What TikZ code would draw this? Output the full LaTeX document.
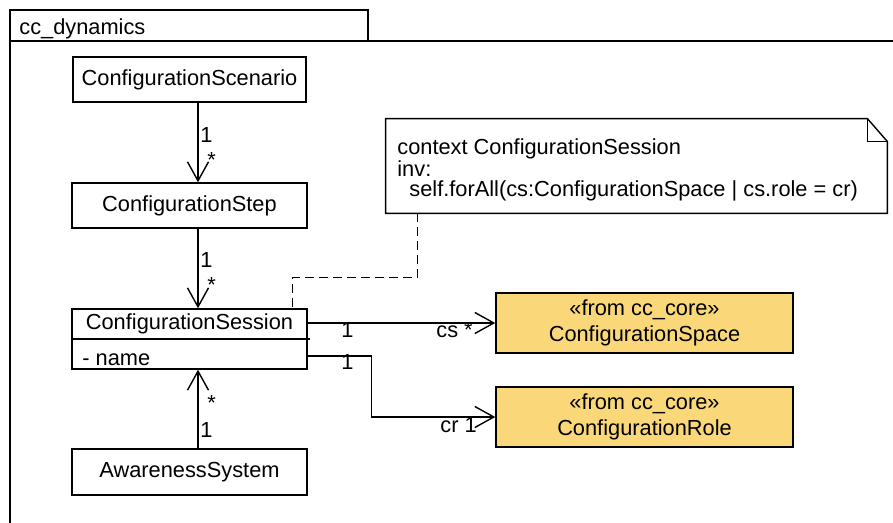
\documentclass[tikz,border=0pt]{standalone}
\usepackage{fontspec}
\setmainfont{Liberation Sans}
\usetikzlibrary{arrows.meta,calc}
\definecolor{corefill}{RGB}{250,216,122}
\begin{document}
\begin{tikzpicture}[x=0.5pt,y=-0.5pt,
  every node/.style={font=\fontsize{10.9}{13}\selectfont, inner sep=0pt},
  line/.style={line width=0.7pt},
  cls/.style={draw, line width=0.7pt, fill=white, minimum width=117.5pt, minimum height=22.5pt},
  corecls/.style={cls, fill=corefill, minimum width=148.5pt, minimum height=30pt, align=center},
  assoc/.style={line width=0.7pt, -{Straight Barb[length=9.5pt,width=10.5pt,line width=0.7pt]}},
  mult/.style={anchor=base west},
  notetxt/.style={anchor=base west}]
\useasboundingbox (0,0) rectangle (893,523);

% package frame with its name tab
\node[draw, line width=0.7pt, minimum width=179pt, minimum height=15.5pt] (tab) at (189,25.5) {};
\node[anchor=base west] (pkgname) at (19,35) {cc\_dynamics};
\coordinate (frameTR) at (893,41);
\coordinate (frameBL) at (10,523);
\draw[line] (frameBL) |- (frameTR);

% classes
\node[cls, minimum width=116.5pt] (scen) at (189.5,79.5) {ConfigurationScenario};
\node[cls] (step) at (189.5,205.5) {ConfigurationStep};
\node[cls, minimum height=30pt] (sess) at (189.5,339) {};
\node (sessname) at (189.5,324) {ConfigurationSession};
\draw[line] (sess.west) -- ([xshift=1pt]sess.east);
\node[anchor=base west] (sessattr) at (82,365) {- name};
\node[cls, minimum height=23pt] (aware) at (189.5,472) {AwarenessSystem};
\node[corecls] (space) at (644.5,323) {«from cc\_core»\\ConfigurationSpace};
\node[corecls] (role) at (644.5,417) {«from cc\_core»\\ConfigurationRole};

% OCL constraint note
\node[minimum width=250.5pt, minimum height=47pt] (note) at (636.5,166) {};
\draw[line, fill=white] (note.south west) -- (note.south east)
  -- ([yshift=-11.5pt]note.north east) -- ([xshift=-10pt]note.north east)
  -- (note.north west) -- cycle;
\draw[line] ([xshift=-10pt]note.north east) |- ([yshift=-11.5pt]note.north east);
\node[notetxt] (noteA) at (397,155) {context ConfigurationSession};
\node[notetxt] (noteB) at (397,177) {inv:};
\node[notetxt] (noteC) at (409,197) {self.forAll(cs:ConfigurationSpace | cs.role = cr)};

% associations
\draw[assoc] ([xshift=4.25pt]scen.south) -- ([xshift=4.25pt]step.north);
\draw[assoc] ([xshift=4.25pt]step.south) -- ([xshift=4.25pt]sess.north);
\draw[assoc] ([xshift=4.25pt]aware.north) -- ([xshift=4.25pt]sess.south);
\draw[assoc] (sess.east |- space.west) -- (space.west);
\draw[assoc] ([yshift=-8.5pt]sess.east) -- ++(32pt,0) |- (role.west);

% note attachment
\draw[line, dash pattern=on 4.5pt off 2.5pt] ([xshift=16pt]note.south west)
  -- ++(0,-32pt) -| ([xshift=-7.5pt]sess.north east);

% multiplicities and role names
\node[mult] (m1) at (200,143) {1};
\node[mult] (m2) at (207,168) {*};
\node[mult] (m3) at (200,268) {1};
\node[mult] (m4) at (207,293) {*};
\node[mult] (m5) at (207,410) {*};
\node[mult] (m6) at (200,437) {1};
\node[mult] (m7) at (341,337) {1};
\node[mult] (m8) at (436,337) {cs *};
\node[mult] (m9) at (341,369) {1};
\node[mult] (m10) at (440,432) {cr 1};
\end{tikzpicture}
\end{document}
